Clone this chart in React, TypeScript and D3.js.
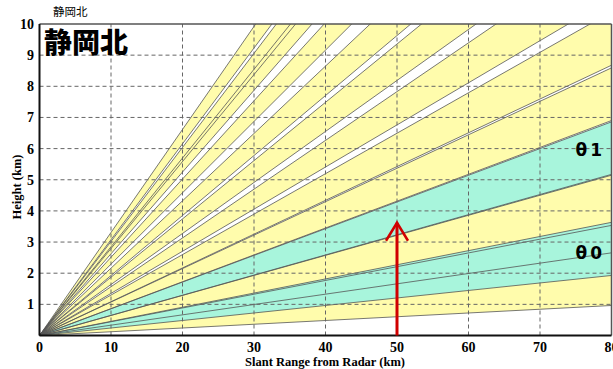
import { useEffect, useRef } from 'react';
import * as d3 from 'd3';

// beam edges (elevation, degrees), low to high
const beamLowDeg = [0.69, 1.38, 2.53, 3.68, 4.93, 6.19, 7.7, 9.3, 10.9, 12.9, 14.7, 15.6, 17.1];
const beamHighDeg = [1.9, 2.6, 3.7, 4.9, 6.13, 7.4, 8.9, 10.6, 12.2, 14.1, 15.9, 16.8, 18.3];
// which beams are highlighted (θ0, θ1)
const beamTag = ['', 'θ0', '', 'θ1', '', '', '', '', '', '', '', '', ''];

const xTicks = [0, 10, 20, 30, 40, 50, 60, 70, 80];
const yTicks = [1, 2, 3, 4, 5, 6, 7, 8, 9, 10];

const arrowRange = 50;
const arrowTop = 3.62;

const labelHeights = [{ tag: 'θ1', h: 5.95 }, { tag: 'θ0', h: 2.65 }];

export default function App() {
  const svgRef = useRef<SVGSVGElement>(null);

  useEffect(() => {
    if (!svgRef.current) return;
    const svg = d3.select(svgRef.current);
    svg.selectAll('*').remove();

    const x = d3.scaleLinear().domain([0, 80]).range([39.5, 611.5]);
    const y = d3.scaleLinear().domain([0, 10]).range([335.5, 24]);
    const rad = (d: number) => (d * Math.PI) / 180;

    svg.append('defs').append('clipPath').attr('id', 'plot')
      .append('rect')
      .attr('x', x(0)).attr('y', y(10))
      .attr('width', x(80) - x(0)).attr('height', y(0) - y(10));

    const plot = svg.append('g').attr('clip-path', 'url(#plot)');

    const far = 80;
    const wedge = (lo: number, hi: number) =>
      `M${x(0)},${y(0)}L${x(far)},${y(far * Math.tan(rad(lo)))}L${x(far)},${y(far * Math.tan(rad(hi)))}Z`;

    // yellow beams first, highlighted ones over them
    beamLowDeg.forEach((lo, i) => {
      if (beamTag[i]) return;
      plot.append('path').attr('d', wedge(lo, beamHighDeg[i])).attr('fill', '#fffcac');
    });
    beamLowDeg.forEach((lo, i) => {
      if (!beamTag[i]) return;
      plot.append('path').attr('d', wedge(lo, beamHighDeg[i])).attr('fill', '#a8f5dc');
    });

    // beam edges
    const edges = beamLowDeg.concat(beamHighDeg);
    edges.forEach(a => {
      plot.append('line')
        .attr('x1', x(0)).attr('y1', y(0))
        .attr('x2', x(far)).attr('y2', y(far * Math.tan(rad(a))))
        .attr('stroke', '#555').attr('stroke-width', 0.8);
    });

    // grid
    plot.append('g').selectAll('line').data(xTicks.slice(1, -1)).enter().append('line')
      .attr('x1', d => x(d)).attr('x2', d => x(d))
      .attr('y1', y(0)).attr('y2', y(10))
      .attr('stroke', '#666').attr('stroke-width', 1).attr('stroke-dasharray', '4,3');
    plot.append('g').selectAll('line').data(yTicks.slice(0, -1)).enter().append('line')
      .attr('x1', x(0)).attr('x2', x(80))
      .attr('y1', d => y(d)).attr('y2', d => y(d))
      .attr('stroke', '#666').attr('stroke-width', 1).attr('stroke-dasharray', '4,3');

    // frame
    svg.append('line').attr('x1', x(0)).attr('x2', x(80)).attr('y1', y(10)).attr('y2', y(10))
      .attr('stroke', '#555').attr('stroke-width', 1.5);
    svg.append('line').attr('x1', x(80)).attr('x2', x(80)).attr('y1', y(10)).attr('y2', y(0))
      .attr('stroke', '#555').attr('stroke-width', 1.5);
    svg.append('line').attr('x1', x(0)).attr('x2', x(0)).attr('y1', y(10)).attr('y2', y(0))
      .attr('stroke', '#111').attr('stroke-width', 2);
    svg.append('line').attr('x1', x(0)).attr('x2', x(80)).attr('y1', y(0)).attr('y2', y(0))
      .attr('stroke', '#111').attr('stroke-width', 2);

    const serif = '"Liberation Serif", "Times New Roman", serif';

    // tick labels
    svg.append('g').selectAll('text').data(xTicks).enter().append('text')
      .attr('x', d => x(d)).attr('y', 352)
      .attr('text-anchor', 'middle')
      .attr('font-family', serif).attr('font-weight', 'bold').attr('font-size', 14)
      .text(d => `${d}`);
    svg.append('g').selectAll('text').data(yTicks).enter().append('text')
      .attr('x', 34).attr('y', d => y(d) + 5)
      .attr('text-anchor', 'end')
      .attr('font-family', serif).attr('font-weight', 'bold').attr('font-size', 14)
      .text(d => `${d}`);

    // axis titles
    svg.append('text')
      .attr('x', 325).attr('y', 366)
      .attr('text-anchor', 'middle')
      .attr('font-family', serif).attr('font-weight', 'bold').attr('font-size', 12.5)
      .text('Slant Range from Radar (km)');
    svg.append('text')
      .attr('transform', 'translate(21,187) rotate(-90)')
      .attr('text-anchor', 'middle')
      .attr('font-family', serif).attr('font-weight', 'bold').attr('font-size', 12.5)
      .text('Height (km)');

    // titles
    svg.append('text')
      .attr('x', 53).attr('y', 16)
      .attr('font-family', '"Noto Sans CJK JP", sans-serif').attr('font-size', 11.5)
      .text('静岡北');
    svg.append('text')
      .attr('x', 44).attr('y', 53)
      .attr('font-family', '"Noto Sans CJK JP", sans-serif').attr('font-weight', 900).attr('font-size', 28)
      .text('静岡北');

    // beam labels
    labelHeights.forEach(l => {
      svg.append('text')
        .attr('x', 605).attr('y', y(l.h) + 6)
        .attr('text-anchor', 'end')
        .attr('font-family', '"DejaVu Sans", sans-serif').attr('font-weight', 'bold').attr('font-size', 17)
        .attr('letter-spacing', 3)
        .text(l.tag);
    });

    // red arrow
    const ax = x(arrowRange);
    svg.append('line')
      .attr('x1', ax).attr('x2', ax).attr('y1', y(0)).attr('y2', y(arrowTop))
      .attr('stroke', '#d00000').attr('stroke-width', 3);
    svg.append('path')
      .attr('d', `M${ax - 11},${y(arrowTop) + 18}L${ax},${y(arrowTop)}L${ax + 11},${y(arrowTop) + 18}`)
      .attr('fill', 'none').attr('stroke', '#d00000').attr('stroke-width', 2.5);
  }, []);

  return (
    <svg
      ref={svgRef}
      width={613}
      height={369}
      style={{ position: 'absolute', left: 0, top: 0, background: '#fff' }}
    />
  );
}
